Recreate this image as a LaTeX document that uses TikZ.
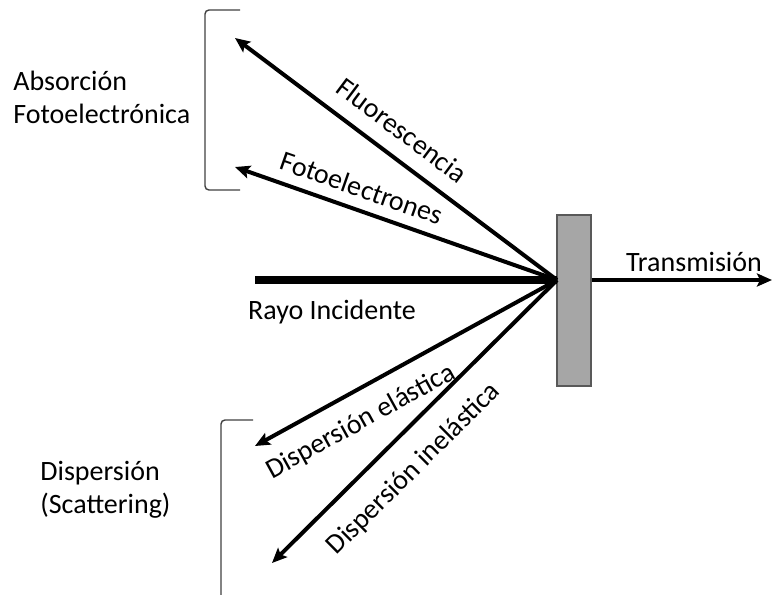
\documentclass[tikz,border=0pt]{standalone}
\usepackage{fontspec}
\setmainfont{Carlito}
\usetikzlibrary{arrows.meta, positioning, calc}

\begin{document}
\begin{tikzpicture}[
    x=0.5pt, y=-0.5pt,
    ray/.style={-{Stealth[length=7.5pt, width=6.5pt, inset=1.5pt]}, line width=2pt},
    txt/.style={font=\fontsize{14}{16.5}\selectfont, inner sep=0pt},
    brace/.style={line width=0.7pt, draw=black!75, rounded corners=2pt},
    sample/.style={draw=black!65, fill=black!35, line width=0.6pt, minimum width=17pt, minimum height=85.5pt, inner sep=0pt}
]
\useasboundingbox (0,0) rectangle (772,595);

% sample and the point where the beam hits it
\node[sample] (sample) at (574,300.5) {};
\coordinate (hit) at (557,280);
\coordinate (inc) at (255,280);
\coordinate (trans) at (772,280);
\coordinate (fluo) at (235,38);
\coordinate (foto) at (235,167);
\coordinate (elas) at (255,446);
\coordinate (inel) at (272,563);

% beams
\draw[line width=4.2pt] (inc) -- (hit);
\draw[ray] (hit) -- (fluo);
\draw[ray] (hit) -- (foto);
\draw[ray] (hit) -- (elas);
\draw[ray] (hit) -- (inel);
\draw[ray] (sample.east |- hit) -- (trans);

% beam labels
\node[txt, rotate=-36.9] (fluotxt) at (402,130) {Fluorescencia};
\node[txt, rotate=-19.3] (fototxt) at (362,188) {Fotoelectrones};
\node[txt, rotate=28.8] (elastxt) at (361,422) {Dispersión elástica};
\node[txt, rotate=44.8] (ineltxt) at (414,469) {Dispersión inelástica};
\node[txt] (transtxt) at (694,262) {Transmisión};
\node[txt] (inctxt) at (332,312) {Rayo Incidente};

% groups
\draw[brace] (240,10) -- (205,10) -- (205,190) -- (240,190);
\draw[brace] (253,420) -- (221,420) -- (221,595);
\node[txt, align=left, anchor=west] (absorb) at (13,97) {Absorción\\Fotoelectrónica};
\node[txt, align=left, anchor=west] (scatter) at (40,490) {Dispersión\\(Scattering)};

\end{tikzpicture}
\end{document}
